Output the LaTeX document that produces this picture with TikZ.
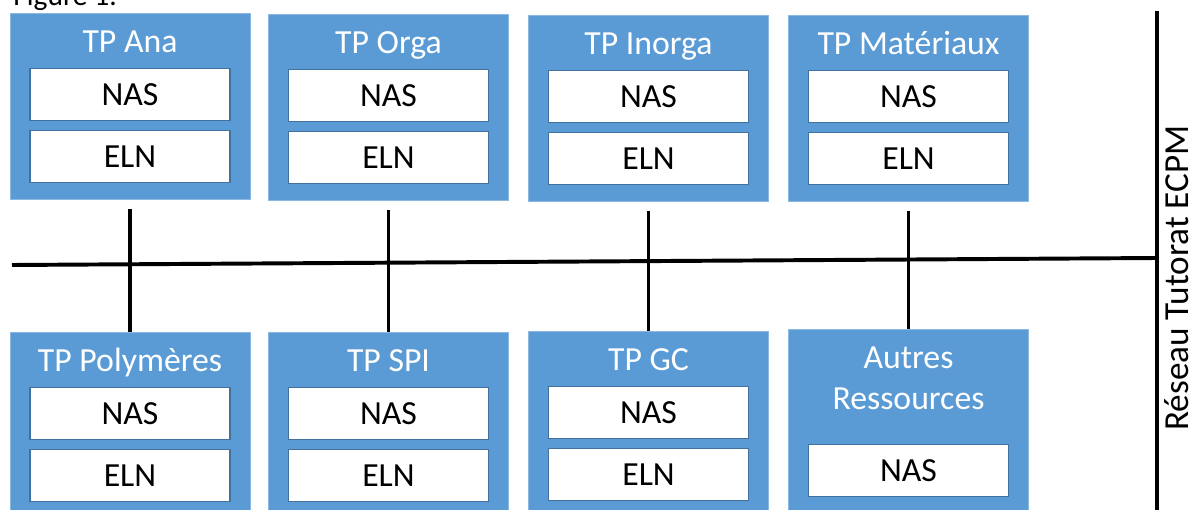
\documentclass[tikz,border=0pt]{standalone}
\usepackage{fontspec}
\setmainfont{Carlito}
\usetikzlibrary{positioning}

\definecolor{tpblue}{HTML}{5B9BD5}
\definecolor{tpedge}{HTML}{41719C}

\tikzset{
  tpbox/.style={rectangle, fill=tpblue, draw=tpblue!70!white, line width=0.6pt,
    minimum width=6cm, minimum height=4.65cm, inner sep=0pt, anchor=north},
  tptitle/.style={text=white, inner sep=0pt, align=center,
    font=\fontsize{24}{29}\selectfont},
  svcbox/.style={rectangle, fill=white, draw=tpedge, line width=0.8pt,
    minimum width=5cm, minimum height=1.3cm, inner sep=0pt,
    font=\fontsize{24}{28}\selectfont},
  bus/.style={line width=2.8pt}
}

\begin{document}
\begin{tikzpicture}[x=0.025cm, y=-0.025cm]
    \useasboundingbox (0,0) rectangle (1190,510);

    % Caption, cut off at the top edge
    \node[anchor=base west, inner sep=0pt, font=\fontsize{21}{24}\selectfont] (caption) at (13,6) {Figure 1.};

    % Top row of TP rooms
    \node[tpbox] (ana) at (130,13) {};
    \node[tptitle, below=0.975cm of ana.north, anchor=base] (ana-title) {TP Ana};
    \node[svcbox, below=1.375cm of ana.north] (ana-nas) {NAS};
    \node[svcbox, below=0.225cm of ana-nas] (ana-eln) {ELN};

    \node[tpbox] (orga) at (388.5,14) {};
    \node[tptitle, below=0.975cm of orga.north, anchor=base] (orga-title) {TP Orga};
    \node[svcbox, below=1.375cm of orga.north] (orga-nas) {NAS};
    \node[svcbox, below=0.225cm of orga-nas] (orga-eln) {ELN};

    \node[tpbox] (inorga) at (648.5,15) {};
    \node[tptitle, below=0.975cm of inorga.north, anchor=base] (inorga-title) {TP Inorga};
    \node[svcbox, below=1.375cm of inorga.north] (inorga-nas) {NAS};
    \node[svcbox, below=0.225cm of inorga-nas] (inorga-eln) {ELN};

    \node[tpbox] (mat) at (908.5,15) {};
    \node[tptitle, below=0.975cm of mat.north, anchor=base] (mat-title) {TP Matériaux};
    \node[svcbox, below=1.375cm of mat.north] (mat-nas) {NAS};
    \node[svcbox, below=0.225cm of mat-nas] (mat-eln) {ELN};

    % Bottom row of TP rooms
    \node[tpbox] (poly) at (130,332) {};
    \node[tptitle, below=0.975cm of poly.north, anchor=base] (poly-title) {TP Polymères};
    \node[svcbox, below=1.375cm of poly.north] (poly-nas) {NAS};
    \node[svcbox, below=0.225cm of poly-nas] (poly-eln) {ELN};

    \node[tpbox] (spi) at (388.5,332) {};
    \node[tptitle, below=0.975cm of spi.north, anchor=base] (spi-title) {TP SPI};
    \node[svcbox, below=1.375cm of spi.north] (spi-nas) {NAS};
    \node[svcbox, below=0.225cm of spi-nas] (spi-eln) {ELN};

    \node[tpbox] (gc) at (648.5,331) {};
    \node[tptitle, below=0.975cm of gc.north, anchor=base] (gc-title) {TP GC};
    \node[svcbox, below=1.375cm of gc.north] (gc-nas) {NAS};
    \node[svcbox, below=0.225cm of gc-nas] (gc-eln) {ELN};

    % Other resources: only a NAS
    \node[tpbox] (autres) at (908.5,329) {};
    \node[tptitle, below=0.45cm of autres.north] (autres-title) {Autres\\Ressources};
    \node[svcbox, below=2.875cm of autres.north] (autres-nas) {NAS};

    % Network backbone and bus
    \coordinate (net-top) at (1157,11);
    \coordinate (net-bot) at (1157,520);
    \coordinate (bus-west) at (12,265);
    \coordinate (bus-east) at (1157,258);
    \draw[bus] (net-top) -- (net-bot);
    \draw[bus] (bus-west) -- (bus-east);

    % Links between the two rows
    \draw[bus] ([yshift=-0.225cm]ana.south) -- (poly.north);
    \draw[bus] ([yshift=-0.225cm]orga.south) -- (spi.north);
    \draw[bus] ([yshift=-0.225cm]inorga.south) -- (gc.north);
    \draw[bus] ([yshift=-0.225cm]mat.south) -- (autres.north);

    % Network label
    \node[rotate=90, anchor=base, inner sep=0pt, font=\fontsize{25}{28}\selectfont] (tutorat) at (1188,278) {Réseau Tutorat ECPM};

\end{tikzpicture}
\end{document}
